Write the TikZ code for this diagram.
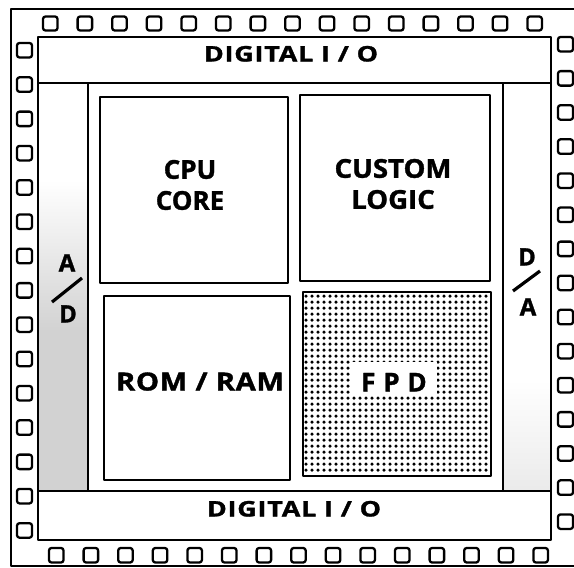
\documentclass[tikz,border=0pt]{standalone}
\usepackage{fontspec}
\setmainfont{Open Sans}[BoldFeatures={FakeBold=1.3}]
\begin{document}
\begin{tikzpicture}[x=1pt,y=-1pt,line join=round]
\tikzset{
  pad/.style={line width=2.3pt,rounded corners=2.5pt},
  wall/.style={line width=2.4pt},
  lbl/.style={font=\bfseries\fontsize{26}{31}\selectfont,inner sep=0pt,align=center},
  smlbl/.style={font=\bfseries\fontsize{24}{28}\selectfont,inner sep=0pt,text height=17pt,text depth=0pt},
  iolbl/.style={font=\bfseries\fontsize{21.5}{24}\selectfont\addfontfeature{LetterSpace=3},inner sep=0pt,text height=15pt,text depth=0pt,xscale=1.25},
  slash/.style={line width=3.2pt},
}
\useasboundingbox (0,0) rectangle (574,568);
% outer frame (right edge outside picture)
\draw[wall] (576,9) -- (11,9) -- (11,566) -- (576,566);
% pads
\foreach \i in {0,...,14}{
  \draw[pad] ({43+34.6*\i},16.5) rectangle ++(14.5,14);
  \draw[pad] ({49+34.6*\i},548) rectangle ++(14.5,14.5);
  \draw[pad] (17,{43+34.3*\i}) rectangle ++(15,14.5);
  \draw[pad] (558,{37+34.1*\i}) rectangle ++(15,14.5);
}
% A/D shading
\shade[top color=white,bottom color=gray!35] (39,180) rectangle (87,330);
\fill[gray!35] (39,330) rectangle (87,490);
% D/A shading
\shade[top color=white,bottom color=gray!16] (504,380) rectangle (550,490);
% die
\draw[wall] (38,37) rectangle (551,540);
\draw[wall] (38,83) -- (551,83);
\draw[wall] (38,491) -- (551,491);
\draw[wall] (88,83) -- (88,491);
\draw[wall] (503,83) -- (503,491);
% blocks
\draw[wall] (100,97) rectangle (288,283);
\draw[wall] (300,95) rectangle (490,281);
\draw[wall] (104,296) rectangle (290,480);
% FPD dots
\foreach \i in {0,...,30}{
  \foreach \j in {0,...,29}{
    \fill ({306+6*\i},{296+6*\j}) circle (1.75);
  }
}
\draw[wall] (303,292) rectangle (491,476);
\fill[white] (351,362) rectangle (437,395);
% labels
\node[iolbl] (dioT) at (291,54) {DIGITAL I / O};
\node[iolbl] (dioB) at (294,509) {DIGITAL I / O};
\node[lbl] (cpu) at (190,185) {CPU\\CORE};
\node[lbl,xscale=1.06] (cust) at (393,184) {CUSTOM\\LOGIC};
\node[smlbl,font=\bfseries\fontsize{25}{28}\selectfont\addfontfeature{LetterSpace=2},text height=18pt,xscale=1.17] (rom) at (200,381.5) {ROM / RAM};
\node[smlbl,font=\bfseries\fontsize{26}{30}\selectfont\addfontfeature{LetterSpace=30},text height=19pt] (fpd) at (394,382) {FPD};
\node[smlbl] (adA) at (67,263) {A};
\node[smlbl] (adD) at (68,314) {D};
\draw[slash] (52,302) -- (82,278);
\node[smlbl] (daD) at (527,257) {D};
\node[smlbl] (daA) at (528,307) {A};
\draw[slash] (513,291) -- (540,271);
\end{tikzpicture}
\end{document}
